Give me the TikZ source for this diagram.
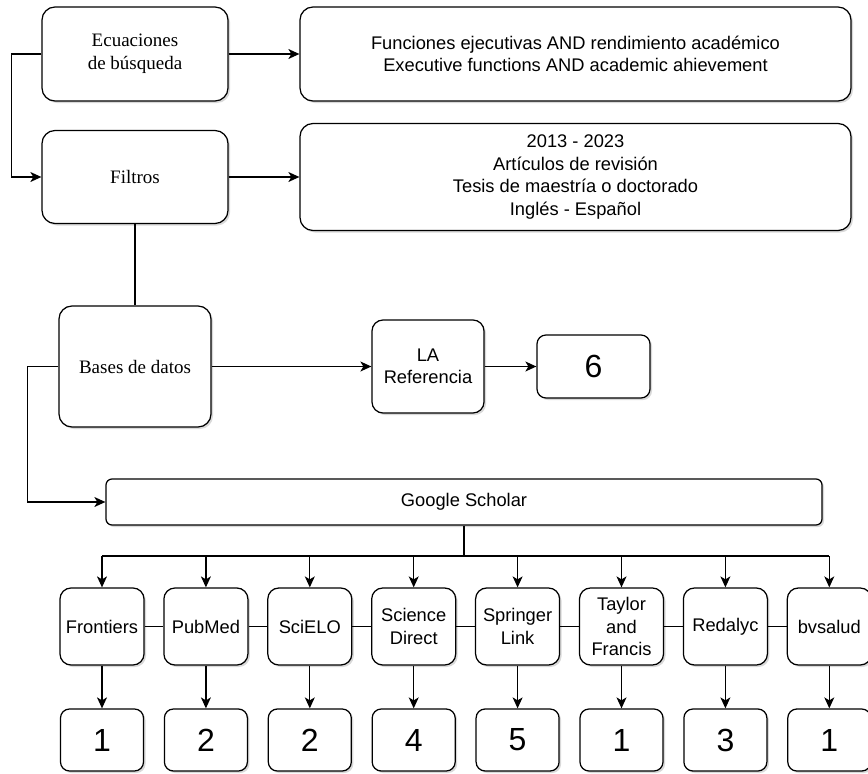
\documentclass[tikz,border=0pt]{standalone}
\usepackage{fontspec}
\setmainfont{Liberation Serif}
\setsansfont{Liberation Sans}
\usetikzlibrary{arrows.meta,calc,positioning,shadows}

\begin{document}
\begin{tikzpicture}[x=1pt,y=-1pt,>={Stealth[length=11pt,width=10pt,inset=3pt]},line width=1.25pt,
  font=\sffamily\fontsize{18.3}{22.5}\selectfont,
  box/.style={draw,fill=white,rounded corners=#1,align=center,inner sep=0pt,
    drop shadow={opacity=.3,shadow xshift=2pt,shadow yshift=-2pt}},
  box/.default=13pt,
  serif/.style={font=\rmfamily\fontsize{19}{23}\selectfont},
  num/.style={font=\sffamily\fontsize{32}{36}\selectfont}]
  \useasboundingbox (0,0) rectangle (868,774);
  \node[box,serif,minimum width=186pt,minimum height=94pt] (ecu) at (135,54) {Ecuaciones\\de búsqueda};
  \node[box,minimum width=551pt,minimum height=94pt] (func) at (575.5,54) {Funciones ejecutivas AND rendimiento académico\\Executive functions AND academic ahievement};
  \node[box,serif,minimum width=186pt,minimum height=93pt] (fil) at (135,177) {Filtros};
  \node[box,minimum width=551pt,minimum height=107pt] (crit) at (575.5,177) {2013 - 2023\\Artículos de revisión\\Tesis de maestría o doctorado\\Inglés - Español};
  \node[box,serif,minimum width=152pt,minimum height=121pt] (bd) at (135,366.5) {Bases de datos};
  \node[box=11pt,minimum width=112pt,minimum height=93pt] (lar) at (428,366.5) {LA\\Referencia};
  \node[box=9pt,num,minimum width=113pt,minimum height=63pt] (seis) at (593.5,366.5) {6};
  \node[box=6pt,minimum width=716pt,minimum height=46pt] (gs) at (464,502) {Google Scholar};
  \draw[->] (ecu.west) -- ++(-30,0) |- (fil.west);
  \draw[->] (ecu) -- (func);\draw[->] (fil) -- (crit);
  \draw (fil.south) -- (bd.north);
  \draw[->] (bd.west) -- ++(-31,0) |- (gs.west);
  \draw[->] (bd) -- (lar);\draw[->] (lar) -- (seis);
  \foreach \lab/\num [count=\i] in {Frontiers/1,PubMed/2,SciELO/2,Science\\Direct/4,Springer\\Link/5,Taylor\\and\\Francis/1,Redalyc/3,bvsalud/1}{
    \node[box=11pt,minimum width=84pt,minimum height=77pt] (s\i) at ({102+103.9*(\i-1)},626.5) {\lab};
    \node[box=9pt,num,minimum width=83pt,minimum height=62pt] (n\i) at ({102+103.9*(\i-1)},740) {\num};
    \draw[->] (s\i) -- (n\i);
  }
  \foreach \i [evaluate=\i as \j using int(\i+1)] in {1,...,7}
    \draw (s\i) -- (s\j);
  \coordinate (bus) at (464,556);
  \draw (gs) -- (bus);\draw (s1.north |- bus) -- (s8.north |- bus);
  \foreach \i in {1,...,8}
    \draw[->] (s\i.north |- bus) -- (s\i.north);
\end{tikzpicture}
\end{document}
